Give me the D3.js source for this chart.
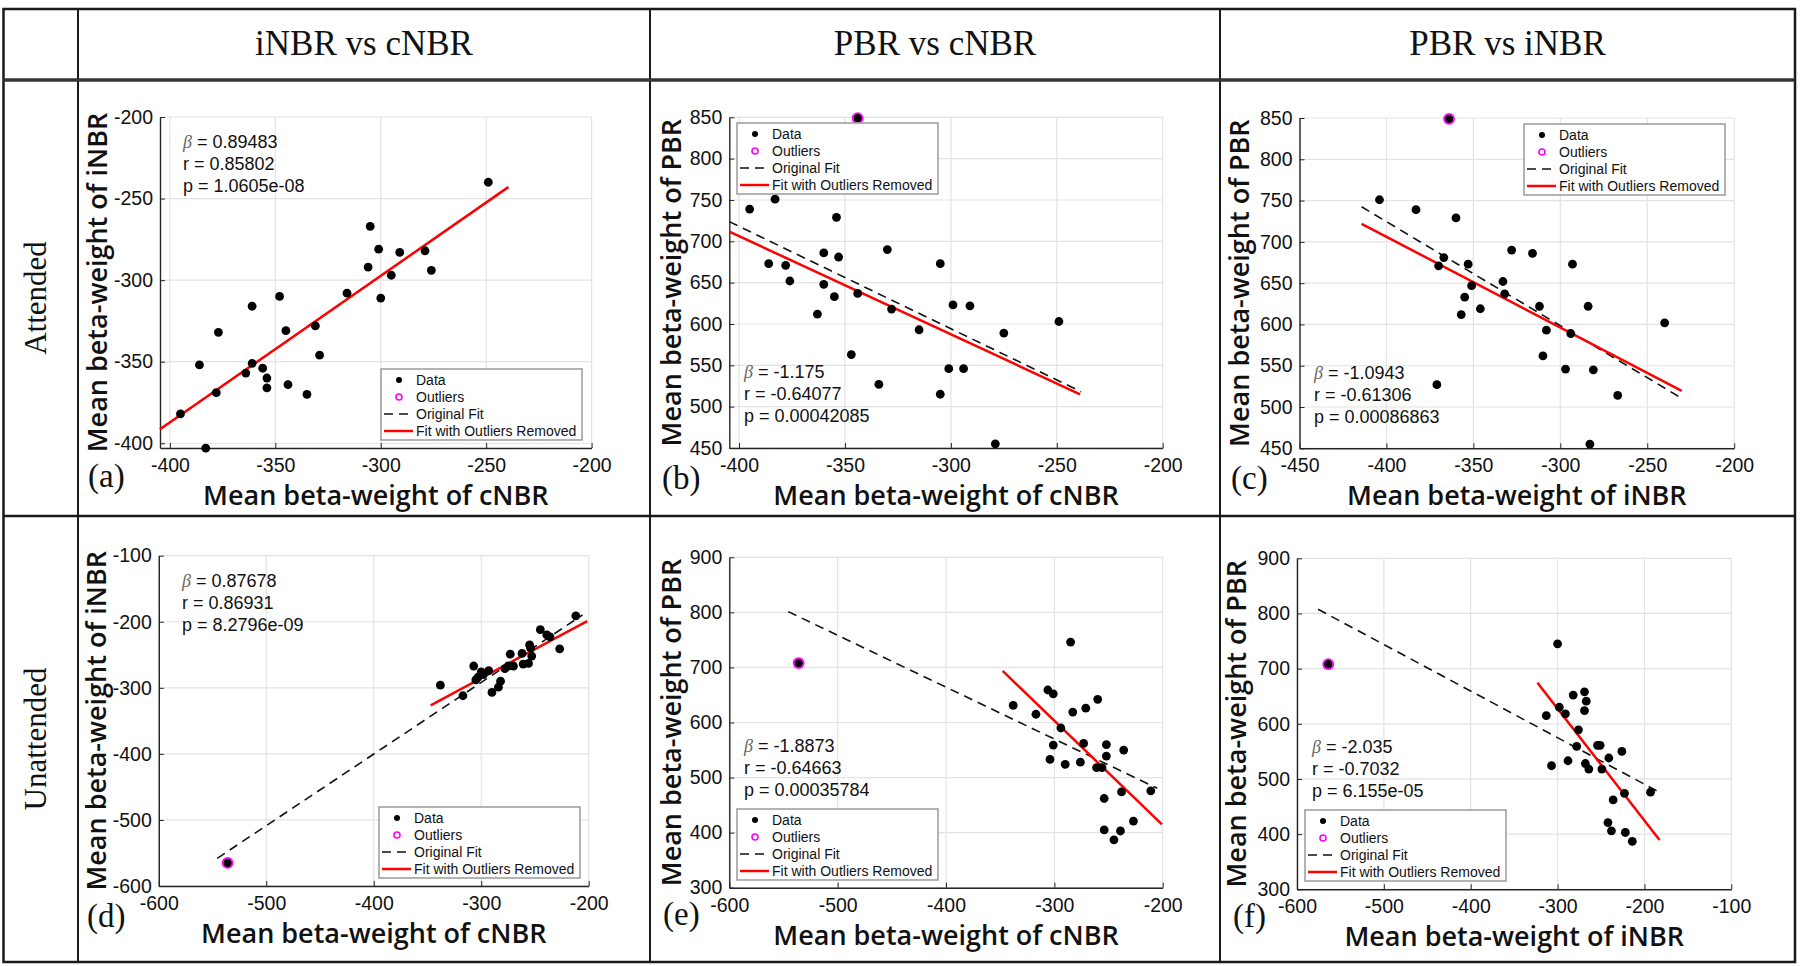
<!DOCTYPE html>
<html>
<head>
<meta charset="utf-8">
<script src="https://cdn.jsdelivr.net/npm/d3@7"></script>
<style>
  body { margin: 0; background: #fff; }
</style>
</head>
<body>
<div class="figure"></div>
<script>
// ---- values ----
const colTitles = ['iNBR vs cNBR', 'PBR vs cNBR', 'PBR vs iNBR'];
const rowTitles = ['Attended', 'Unattended'];
const legendLabels = ['Data', 'Outliers', 'Original Fit', 'Fit with Outliers Removed'];

// (a) attended, iNBR vs cNBR
const dataA = [[-249,-240],[-305,-267],[-301,-281],[-291,-283],[-279,-282],[-276,-294],[-306,-292],[-295,-297],[-300,-311],[-316,-308],[-348,-310],[-361,-316],[-377,-332],[-345,-331],[-331,-328],[-329,-346],[-386,-352],[-361,-351],[-364,-357],[-356,-354],[-354,-360],[-354,-366],[-344,-364],[-335,-370],[-378,-369],[-395,-382],[-383,-403]];
const outliersA = [];
const origFitA = [[-404.7,-391.4],[-239.5,-243]];
const cleanFitA = [[-404.7,-391.4],[-239.5,-243]];
const statsA = ['0.89483', '0.85802', '1.0605e-08'];
const xTicksA = [-400,-350,-300,-250,-200];
const yTicksA = [-400,-350,-300,-250,-200];

// (b) attended, PBR vs cNBR
const dataB = [[-395,739],[-383,751],[-354,729],[-386,673],[-378,671],[-376,652],[-360,686],[-353,681],[-360,648],[-355,633],[-363,612],[-344,637],[-330,690],[-328,618],[-315,593],[-347,563],[-334,527],[-305,673],[-299,623],[-291,622],[-301,546],[-294,546],[-305,515],[-275,589],[-249,603],[-279,455]];
const outliersB = [[-344,849]];
const origFitB = [[-404.6,723.8],[-238.5,518.1]];
const cleanFitB = [[-404.6,711.7],[-239,515]];
const statsB = ['-1.175', '-0.64077', '0.00042085'];
const xTicksB = [-400,-350,-300,-250,-200];
const yTicksB = [450,500,550,600,650,700,750,800,850];

// (c) attended, PBR vs iNBR
const dataC = [[-404,751],[-383,739],[-360,729],[-367,681],[-370,671],[-353,673],[-351,647],[-355,633],[-357,612],[-346,619],[-328,690],[-316,686],[-333,652],[-332,637],[-293,673],[-312,622],[-284,622],[-308,593],[-294,589],[-310,562],[-297,546],[-281,545],[-371,527],[-267,514],[-240,602],[-283,455]];
const outliersC = [[-364,849]];
const origFitC = [[-414.3,742.5],[-230.2,510.6]];
const cleanFitC = [[-414.3,721.9],[-230.2,519.5]];
const statsC = ['-1.0943', '-0.61306', '0.00086863'];
const xTicksC = [-450,-400,-350,-300,-250,-200];
const yTicksC = [450,500,550,600,650,700,750,800,850];

// (d) unattended, iNBR vs cNBR
const dataD = [[-338,-296],[-317,-312],[-307,-267],[-303,-284],[-300,-276],[-305,-288],[-298,-280],[-293,-274],[-290,-307],[-284,-299],[-282,-290],[-278,-271],[-273,-249],[-270,-267],[-275,-267],[-262,-248],[-261,-264],[-256,-263],[-255,-235],[-254,-240],[-253,-252],[-245,-212],[-239,-220],[-236,-223],[-227,-241],[-212,-191]];
const outliersD = [[-536,-565]];
const origFitD = [[-545.6,-558.1],[-205.8,-189.8]];
const cleanFitD = [[-347,-326.5],[-201.4,-198.9]];
const statsD = ['0.87678', '0.86931', '8.2796e-09'];
const xTicksD = [-600,-500,-400,-300,-200];
const yTicksD = [-600,-500,-400,-300,-200,-100];

// (e) unattended, PBR vs cNBR
const dataE = [[-285,746],[-338,631],[-317,615],[-306,659],[-301,652],[-283,619],[-271,626],[-260,642],[-294,590],[-301,559],[-304,533],[-290,524],[-276,528],[-273,562],[-261,518],[-256,518],[-252,560],[-252,539],[-236,550],[-238,474],[-254,462],[-211,476],[-227,421],[-254,405],[-239,403],[-245,387]];
const outliersE = [[-536,708]];
const origFitE = [[-545.6,801.3],[-205,480.5]];
const cleanFitE = [[-347.7,693.6],[-200.7,415.1]];
const statsE = ['-1.8873', '-0.64663', '0.00035784'];
const xTicksE = [-600,-500,-400,-300,-200];
const yTicksE = [300,400,500,600,700,800,900];

// (f) unattended, PBR vs iNBR
const dataF = [[-300,745],[-313,615],[-298,630],[-291,618],[-282,652],[-269,658],[-267,641],[-269,624],[-276,589],[-278,559],[-254,561],[-251,561],[-307,524],[-288,533],[-268,528],[-264,518],[-249,518],[-241,538],[-226,550],[-223,474],[-236,462],[-193,476],[-242,421],[-238,406],[-222,403],[-214,387]];
const outliersF = [[-564,708]];
const origFitF = [[-575.7,807.6],[-182.6,475.8]];
const cleanFitF = [[-323.2,674.6],[-182.6,389.4]];
const statsF = ['-2.035', '-0.7032', '6.155e-05'];
const xTicksF = [-600,-500,-400,-300,-200,-100];
const yTicksF = [300,400,500,600,700,800,900];

// ---- layout ----
const W = 1800, H = 966;
const colX = [3.5, 78, 650, 1220, 1795];
const rowY = [9, 80, 516, 962];

const panels = [
    { letter: '(a)', xLabel: 'Mean beta-weight of cNBR', yLabel: 'Mean beta-weight of iNBR',
      data: dataA, outliers: outliersA, origFit: origFitA, cleanFit: cleanFitA, stats: statsA,
      xTicks: xTicksA, yTicks: yTicksA, xDomain: [-404.7, -200], yDomain: [-402.9, -200],
      box: [160, 591.6, 117, 448], statsAt: [183, 148], legendAt: [381, 369], letterAt: [88, 487], yLabelX: 107 },
    { letter: '(b)', xLabel: 'Mean beta-weight of cNBR', yLabel: 'Mean beta-weight of PBR',
      data: dataB, outliers: outliersB, origFit: origFitB, cleanFit: cleanFitB, stats: statsB,
      xTicks: xTicksB, yTicks: yTicksB, xDomain: [-404.6, -200], yDomain: [450, 850],
      box: [729.3, 1162.7, 117.3, 448], statsAt: [744, 378], legendAt: [737, 123], letterAt: [662, 489], yLabelX: 681 },
    { letter: '(c)', xLabel: 'Mean beta-weight of iNBR', yLabel: 'Mean beta-weight of PBR',
      data: dataC, outliers: outliersC, origFit: origFitC, cleanFit: cleanFitC, stats: statsC,
      xTicks: xTicksC, yTicks: yTicksC, xDomain: [-450, -200], yDomain: [450, 850],
      box: [1299.5, 1734.2, 118, 448.3], statsAt: [1314, 379], legendAt: [1524, 124], letterAt: [1231, 489], yLabelX: 1248.5 },
    { letter: '(d)', xLabel: 'Mean beta-weight of cNBR', yLabel: 'Mean beta-weight of iNBR',
      data: dataD, outliers: outliersD, origFit: origFitD, cleanFit: cleanFitD, stats: statsD,
      xTicks: xTicksD, yTicks: yTicksD, xDomain: [-600, -200], yDomain: [-600, -100],
      box: [158.8, 588.7, 555.7, 886], statsAt: [182, 586.5], legendAt: [379, 807], letterAt: [87, 927], yLabelX: 106 },
    { letter: '(e)', xLabel: 'Mean beta-weight of cNBR', yLabel: 'Mean beta-weight of PBR',
      data: dataE, outliers: outliersE, origFit: origFitE, cleanFit: cleanFitE, stats: statsE,
      xTicks: xTicksE, yTicks: yTicksE, xDomain: [-600, -200], yDomain: [300, 900],
      box: [729.3, 1162.7, 557.3, 887.7], statsAt: [744, 751.5], legendAt: [737, 809], letterAt: [663, 925], yLabelX: 681 },
    { letter: '(f)', xLabel: 'Mean beta-weight of iNBR', yLabel: 'Mean beta-weight of PBR',
      data: dataF, outliers: outliersF, origFit: origFitF, cleanFit: cleanFitF, stats: statsF,
      xTicks: xTicksF, yTicks: yTicksF, xDomain: [-600, -100], yDomain: [300, 900],
      box: [1297, 1731.3, 558.3, 889.3], statsAt: [1312, 752.5], legendAt: [1305, 810], letterAt: [1233, 927], yLabelX: 1246 }
];

const sans = '"Liberation Sans", Arial, sans-serif';
const serif = '"Liberation Serif", "Times New Roman", serif';
const labelFont = '"Open Sans", sans-serif';

const svg = d3.select('.figure')
    .append('svg')
    .attr('width', W)
    .attr('height', H)
    .style('display', 'block');

svg.append('rect').attr('width', W).attr('height', H).attr('fill', '#fff');

// ---- table frame ----
const frame = svg.append('g').attr('stroke', '#1a1a1a').attr('fill', 'none');
frame.append('rect')
    .attr('x', colX[0]).attr('y', rowY[0])
    .attr('width', colX[4] - colX[0]).attr('height', rowY[3] - rowY[0])
    .attr('stroke-width', 2.5);
frame.selectAll('.vline')
    .data(colX.slice(1, 4))
    .enter()
    .append('line')
    .attr('x1', d => d).attr('x2', d => d)
    .attr('y1', rowY[0]).attr('y2', rowY[3])
    .attr('stroke-width', 2);
frame.append('line')
    .attr('x1', colX[0]).attr('x2', colX[4]).attr('y1', rowY[1]).attr('y2', rowY[1])
    .attr('stroke', '#333').attr('stroke-width', 3.5);
frame.append('line')
    .attr('x1', colX[0]).attr('x2', colX[4]).attr('y1', rowY[2]).attr('y2', rowY[2])
    .attr('stroke-width', 2.5);

svg.selectAll('.colTitle')
    .data(colTitles)
    .enter()
    .append('text')
    .attr('x', (d, i) => (colX[i + 1] + colX[i + 2]) / 2)
    .attr('y', 55)
    .attr('text-anchor', 'middle')
    .style('font-family', serif)
    .style('font-size', '35px')
    .attr('fill', '#111')
    .text(d => d);

svg.selectAll('.rowTitle')
    .data(rowTitles)
    .enter()
    .append('text')
    .attr('transform', (d, i) => `translate(46, ${(rowY[i + 1] + rowY[i + 2]) / 2}) rotate(-90)`)
    .attr('text-anchor', 'middle')
    .style('font-family', serif)
    .style('font-size', '31px')
    .attr('fill', '#111')
    .text(d => d);

// ---- panels ----
panels.forEach(p => {
    const [left, right, top, bottom] = p.box;
    const x = d3.scaleLinear().domain(p.xDomain).range([left, right]);
    const y = d3.scaleLinear().domain(p.yDomain).range([bottom, top]);
    const g = svg.append('g');

    // grid
    g.selectAll('.vgrid')
        .data(p.xTicks)
        .enter()
        .append('line')
        .attr('x1', d => x(d)).attr('x2', d => x(d))
        .attr('y1', top).attr('y2', bottom)
        .attr('stroke', '#e3e3e3').attr('stroke-width', 1.2);
    g.selectAll('.hgrid')
        .data(p.yTicks)
        .enter()
        .append('line')
        .attr('x1', left).attr('x2', right)
        .attr('y1', d => y(d)).attr('y2', d => y(d))
        .attr('stroke', '#e3e3e3').attr('stroke-width', 1.2);

    // axes, ticks pointing inward like MATLAB
    const xAxis = g.append('g')
        .attr('transform', `translate(0, ${bottom})`)
        .call(d3.axisBottom(x).tickValues(p.xTicks).tickFormat(d => String(d))
            .tickSizeInner(-5).tickSizeOuter(0).tickPadding(10));
    const yAxis = g.append('g')
        .attr('transform', `translate(${left}, 0)`)
        .call(d3.axisLeft(y).tickValues(p.yTicks).tickFormat(d => String(d))
            .tickSizeInner(-5).tickSizeOuter(0).tickPadding(7));
    [xAxis, yAxis].forEach(a => {
        a.select('.domain').attr('stroke', '#262626').attr('stroke-width', 1.4);
        a.selectAll('.tick line').attr('stroke', '#262626');
        a.selectAll('.tick text')
            .attr('fill', '#111')
            .style('font-family', sans)
            .style('font-size', '19.5px');
    });

    // fits
    const line = d3.line().x(d => x(d[0])).y(d => y(d[1]));
    g.append('path')
        .datum(p.origFit)
        .attr('d', line)
        .attr('fill', 'none')
        .attr('stroke', '#111')
        .attr('stroke-width', 1.6)
        .attr('stroke-dasharray', '9,6');
    g.append('path')
        .datum(p.cleanFit)
        .attr('d', line)
        .attr('fill', 'none')
        .attr('stroke', '#f00')
        .attr('stroke-width', 2.5);

    // points (outliers also carry a black data dot underneath)
    g.selectAll('.dot')
        .data(p.data.concat(p.outliers))
        .enter()
        .append('circle')
        .attr('cx', d => x(d[0]))
        .attr('cy', d => y(d[1]))
        .attr('r', 4.4)
        .attr('fill', '#000');
    g.selectAll('.outlier')
        .data(p.outliers)
        .enter()
        .append('circle')
        .attr('cx', d => x(d[0]))
        .attr('cy', d => y(d[1]))
        .attr('r', 5)
        .attr('fill', 'none')
        .attr('stroke', '#f0f')
        .attr('stroke-width', 1.8);

    // stats text
    const st = g.append('text')
        .attr('x', p.statsAt[0])
        .attr('y', p.statsAt[1])
        .attr('fill', '#111')
        .style('font-family', sans)
        .style('font-size', '18px');
    st.append('tspan')
        .style('font-family', serif)
        .style('font-style', 'italic')
        .attr('fill', '#666')
        .text('\u03b2');
    st.append('tspan').text(' = ' + p.stats[0]);
    g.append('text')
        .attr('x', p.statsAt[0]).attr('y', p.statsAt[1] + 22)
        .attr('fill', '#111')
        .style('font-family', sans).style('font-size', '18px')
        .text('r = ' + p.stats[1]);
    g.append('text')
        .attr('x', p.statsAt[0]).attr('y', p.statsAt[1] + 44)
        .attr('fill', '#111')
        .style('font-family', sans).style('font-size', '18px')
        .text('p = ' + p.stats[2]);

    // legend
    const lg = g.append('g').attr('transform', `translate(${p.legendAt[0]}, ${p.legendAt[1]})`);
    lg.append('rect')
        .attr('width', 201).attr('height', 71)
        .attr('fill', '#fff')
        .attr('stroke', '#9a9a9a')
        .attr('stroke-width', 1.5);
    const rows = legendLabels.map((d, i) => 11 + i * 17);
    lg.append('circle').attr('cx', 18).attr('cy', rows[0]).attr('r', 3).attr('fill', '#000');
    lg.append('circle').attr('cx', 18).attr('cy', rows[1]).attr('r', 3)
        .attr('fill', '#fff').attr('stroke', '#f0f').attr('stroke-width', 1.6);
    lg.append('line').attr('x1', 3).attr('x2', 32).attr('y1', rows[2]).attr('y2', rows[2])
        .attr('stroke', '#111').attr('stroke-width', 1.4).attr('stroke-dasharray', '9,6');
    lg.append('line').attr('x1', 3).attr('x2', 32).attr('y1', rows[3]).attr('y2', rows[3])
        .attr('stroke', '#f00').attr('stroke-width', 2.5);
    lg.selectAll('.lab')
        .data(legendLabels)
        .enter()
        .append('text')
        .attr('x', 35)
        .attr('y', (d, i) => rows[i])
        .attr('dy', '0.36em')
        .attr('fill', '#111')
        .style('font-family', sans)
        .style('font-size', '14px')
        .text(d => d);

    // axis labels and panel letter
    g.append('text')
        .attr('x', (left + right) / 2)
        .attr('y', bottom + 57)
        .attr('text-anchor', 'middle')
        .attr('fill', '#111')
        .style('font-family', labelFont)
        .style('font-weight', 600)
        .style('font-size', '27px')
        .text(p.xLabel);
    g.append('text')
        .attr('transform', `translate(${p.yLabelX}, ${(top + bottom) / 2}) rotate(-90)`)
        .attr('text-anchor', 'middle')
        .attr('fill', '#111')
        .style('font-family', labelFont)
        .style('font-weight', 600)
        .style('font-size', '27px')
        .text(p.yLabel);
    g.append('text')
        .attr('x', p.letterAt[0])
        .attr('y', p.letterAt[1])
        .attr('fill', '#111')
        .style('font-family', serif)
        .style('font-size', '33px')
        .text(p.letter);
});
</script>
</body>
</html>
